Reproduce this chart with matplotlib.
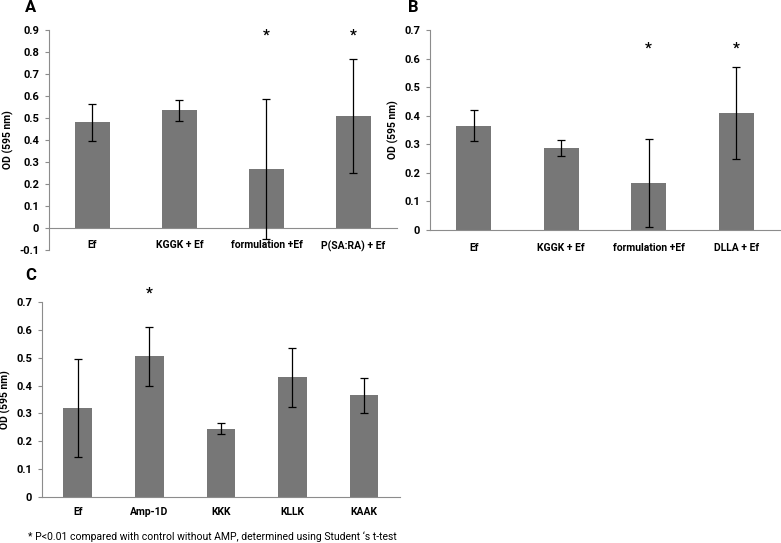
import matplotlib.pyplot as plt

plt.rcParams['font.family'] = ['Roboto', 'DejaVu Sans']

# panel A
a_labels = ["Ef", "KGGK + Ef", "formulation +Ef", "P(SA:RA) + Ef"]
a_values = [0.48, 0.535, 0.268, 0.508]
a_errors = [0.083, 0.048, 0.32, 0.26]
a_stars = [False, False, True, True]

# panel B
b_labels = ["Ef", "KGGK + Ef", "formulation +Ef", "DLLA + Ef"]
b_values = [0.365, 0.287, 0.165, 0.41]
b_errors = [0.055, 0.028, 0.153, 0.162]
b_stars = [False, False, True, True]

# panel C
c_labels = ["Ef", "Amp-1D", "KKK", "KLLK", "KAAK"]
c_values = [0.32, 0.505, 0.246, 0.43, 0.365]
c_errors = [0.177, 0.107, 0.019, 0.106, 0.064]
c_stars = [False, True, False, False, False]

BAR = "#777777"
AXIS = "#8c8c8c"


def panel(ax, labels, values, errors, stars, ymin, ymax, star_y, pad):
    # move the x axis to y=0 first, this resets the ticks
    ax.spines['top'].set_visible(False)
    ax.spines['right'].set_visible(False)
    ax.spines['bottom'].set_position(('data', 0))
    ax.spines['bottom'].set_color(AXIS)
    ax.spines['left'].set_color(AXIS)

    x = list(range(len(labels)))
    ax.bar(x, values, width=0.4, color=BAR, zorder=2)
    ax.errorbar(x, values, yerr=errors, fmt='none', ecolor='black',
                elinewidth=0.9, capsize=3, capthick=0.9, zorder=3)
    for xi, s in zip(x, stars):
        if s:
            ax.text(xi, star_y, "*", ha='center', va='center',
                    fontsize=11, fontweight='bold', clip_on=False)
    ax.set_xlim(-0.5, len(labels) - 0.5)
    ax.set_ylim(ymin, ymax)
    ticks = [round(ymin + 0.1 * i, 1) for i in range(int(round((ymax - ymin) * 10)) + 1)]
    ax.set_yticks(ticks)
    ax.set_yticklabels(["%g" % t for t in ticks])
    ax.set_xticks(x)
    ax.set_xticklabels(labels)
    ax.tick_params(axis='x', length=0, pad=pad)
    ax.tick_params(axis='y', length=3, color=AXIS, pad=4)
    plt.setp(ax.get_xticklabels(), fontsize=7.5, fontweight='bold')
    plt.setp(ax.get_yticklabels(), fontsize=8, fontweight='bold')
    ax.set_ylabel("OD (595 nm)", fontsize=7.5, fontweight='bold', labelpad=4)


fig = plt.figure(figsize=(7.81, 5.43), dpi=100)

ax_a = fig.add_axes([0.0627, 0.5396, 0.4456, 0.4052])
panel(ax_a, a_labels, a_values, a_errors, a_stars, -0.1, 0.9, 0.875, 9)

ax_b = fig.add_axes([0.5506, 0.5764, 0.448, 0.3683])
panel(ax_b, b_labels, b_values, b_errors, b_stars, 0.0, 0.7, 0.635, 9)

ax_c = fig.add_axes([0.0538, 0.0847, 0.458, 0.359])
panel(ax_c, c_labels, c_values, c_errors, c_stars, 0.0, 0.7, 0.73, 7)

fig.text(25 / 781, 1 - 8 / 543, "A", fontsize=12, fontweight='bold', ha='left', va='center')
fig.text(408 / 781, 1 - 8 / 543, "B", fontsize=12, fontweight='bold', ha='left', va='center')
fig.text(25 / 781, 1 - 275 / 543, "C", fontsize=12, fontweight='bold', ha='left', va='center')
fig.text(28 / 781, 1 - 537 / 543,
         "* P<0.01 compared with control without AMP, determined using Student \u2018s t-test",
         fontsize=7.5, ha='left', va='center')

fig.savefig("out.png", dpi=100)
